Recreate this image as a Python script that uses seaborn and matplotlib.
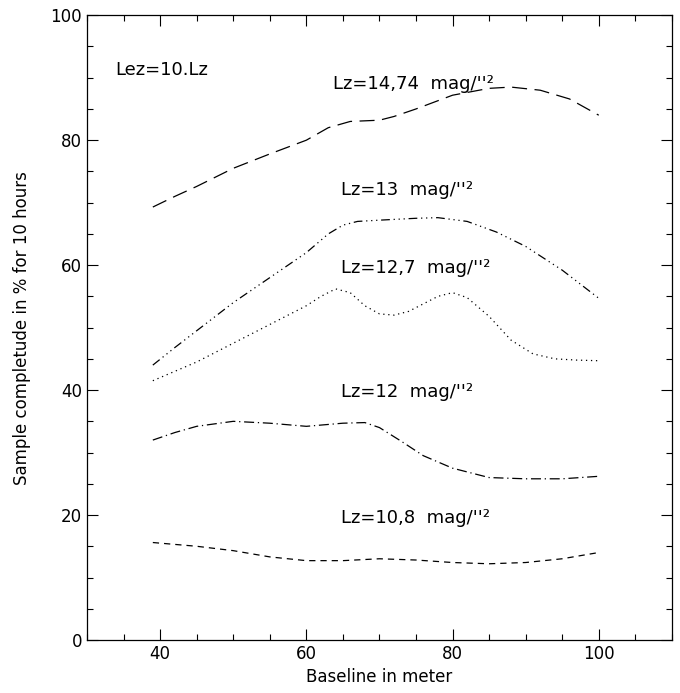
import numpy as np
import pandas as pd
import matplotlib
matplotlib.use("Agg")
import matplotlib.pyplot as plt
import seaborn as sns
from matplotlib.ticker import MultipleLocator

# Data
x_1474 = [39, 42, 45, 50, 55, 60, 63, 66, 68, 70, 72, 75, 80, 85, 88, 92, 96, 100]
y_1474 = [69.3, 71.0, 72.6, 75.5, 77.8, 80.0, 82.0, 83.0, 83.1, 83.2, 83.8, 85.0, 87.2, 88.3, 88.5, 88.0, 86.6, 84.0]

x_13 = [39, 42, 45, 50, 55, 60, 63, 65, 67, 70, 75, 78, 82, 86, 90, 95, 100]
y_13 = [44.0, 46.8, 49.5, 54.0, 58.0, 62.0, 65.0, 66.4, 67.0, 67.2, 67.5, 67.6, 67.0, 65.3, 63.0, 59.2, 54.7]

x_127 = [39, 45, 50, 55, 60, 62, 64, 66, 68, 70, 72, 74, 76, 78, 80, 82, 85, 88, 91, 94, 97, 100]
y_127 = [41.5, 44.5, 47.5, 50.5, 53.5, 55.0, 56.2, 55.6, 53.5, 52.2, 52.0, 52.6, 53.8, 55.0, 55.6, 54.8, 51.8, 48.0, 45.8, 45.0, 44.8, 44.7]

x_12 = [39, 42, 45, 50, 55, 60, 65, 68, 70, 73, 76, 80, 85, 90, 95, 100]
y_12 = [32.0, 33.2, 34.2, 35.0, 34.7, 34.2, 34.7, 34.8, 34.0, 31.8, 29.5, 27.5, 26.0, 25.8, 25.8, 26.2]

x_108 = [39, 45, 50, 55, 60, 65, 70, 75, 80, 85, 90, 95, 100]
y_108 = [15.6, 15.0, 14.3, 13.3, 12.7, 12.7, 13.0, 12.8, 12.4, 12.2, 12.4, 13.0, 14.0]

series_names = ["Lz=14,74", "Lz=13", "Lz=12,7", "Lz=12", "Lz=10,8"]
label_texts = ['Lz=14,74  mag/\'\'²', 'Lz=13  mag/\'\'²', 'Lz=12,7  mag/\'\'²',
               'Lz=12  mag/\'\'²', 'Lz=10,8  mag/\'\'²']
label_x = [63.7, 64.7, 64.7, 64.7, 64.7]
label_y = [89.0, 72.0, 59.5, 39.7, 19.5]

frames = []
for name, xs, ys in zip(series_names,
                        [x_1474, x_13, x_127, x_12, x_108],
                        [y_1474, y_13, y_127, y_12, y_108]):
    frames.append(pd.DataFrame({"baseline": xs, "completude": ys, "series": name}))
df = pd.concat(frames, ignore_index=True)

sns.set_style("ticks")
plt.rcParams['font.family'] = ['DejaVu Sans']
plt.rcParams['text.color'] = 'black'
plt.rcParams['axes.labelcolor'] = 'black'
plt.rcParams['xtick.color'] = 'black'
plt.rcParams['ytick.color'] = 'black'

fig = plt.figure(figsize=(6.8, 6.93), dpi=100)
ax = fig.add_axes([0.128, 0.0765, 0.860, 0.9015])

dashes = {
    "Lz=14,74": (12, 6),
    "Lz=13": (7, 3, 1, 3, 1, 3, 1, 3),
    "Lz=12,7": (1, 3),
    "Lz=12": (8, 3, 1, 3),
    "Lz=10,8": (5, 4),
}
sns.lineplot(data=df, x="baseline", y="completude", hue="series", style="series",
             palette={n: "black" for n in series_names}, dashes=dashes,
             linewidth=0.9, legend=False, ax=ax, sort=True)

for t, lx, ly in zip(label_texts, label_x, label_y):
    ax.text(lx, ly, t, fontsize=13, va="center", ha="left", color="black")
ax.text(33.9, 91.2, "Lez=10.Lz", fontsize=13, va="center", ha="left", color="black")

ax.set_xlim(30, 110)
ax.set_ylim(0, 100)
ax.xaxis.set_major_locator(MultipleLocator(20))
ax.xaxis.set_minor_locator(MultipleLocator(5))
ax.yaxis.set_major_locator(MultipleLocator(20))
ax.yaxis.set_minor_locator(MultipleLocator(5))
ax.tick_params(which="both", direction="in", top=True, right=True, color="black",
               labelcolor="black", labelsize=12, width=0.8)
ax.tick_params(which="major", length=8)
ax.tick_params(which="minor", length=4)
for s in ax.spines.values():
    s.set_color("black")
    s.set_linewidth(0.9)
ax.set_xlabel("Baseline in meter", fontsize=12, labelpad=4, color="black")
ax.set_ylabel("Sample completude in % for 10 hours", fontsize=12, labelpad=14, color="black")

fig.savefig("out.png", dpi=100)
